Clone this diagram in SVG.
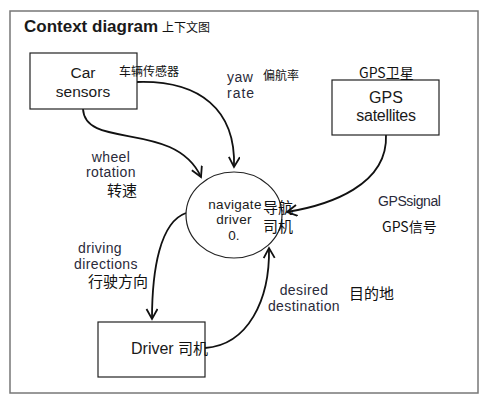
<svg xmlns="http://www.w3.org/2000/svg" width="494" height="412" viewBox="0 0 494 412">
<style>
.box{fill:#fff;stroke:#222;stroke-width:1.2}
.en{font-family:"Liberation Sans",Arial,sans-serif;fill:#1a1a1a}
.cn{font-family:"Noto Sans CJK SC","Noto Sans",sans-serif;fill:#111}
.lbl{font-family:"Liberation Sans",Arial,sans-serif;fill:#2a2a3a;font-size:14px}
.conn{fill:none;stroke:#111;stroke-width:1.8;marker-end:url(#arr)}
</style>
<defs>
<marker id="arr" markerUnits="userSpaceOnUse" markerWidth="16" markerHeight="16" refX="11" refY="6" orient="auto">
<path d="M1,0.5 L11,6 L1,11.5" fill="none" stroke="#111" stroke-width="1.8"/>
</marker>
</defs>
<rect width="494" height="412" fill="#fff"/>
<rect x="10" y="11" width="468" height="382" fill="none" stroke="#777" stroke-width="1.5"/>
<g id="title">
<text x="24" y="32" class="en" font-size="17" font-weight="bold">Context diagram</text>
<text x="162" y="32" class="cn" font-size="12">上下文图</text>
</g>
<g id="connectors">
<path class="conn" d="M83,109 C85,150 175,120 201,177"/>
<path class="conn" d="M137,82 C200,80 236,110 234,167"/>
<path class="conn" d="M386,135 C388,185 330,205 287,212"/>
<path class="conn" d="M186,213 C160,222 152,270 152,319"/>
<path class="conn" d="M205,348 C248,345 270,300 269,248"/>
</g>
<g id="car-sensors">
<rect class="box" x="30" y="53" width="107" height="56"/>
<text x="83" y="78" class="en" font-size="15.5" text-anchor="middle">Car</text>
<text x="83" y="97" class="en" font-size="15.5" text-anchor="middle">sensors</text>
<text x="119" y="76" class="cn" font-size="12">车辆传感器</text>
</g>
<g id="gps-satellites">
<rect class="box" x="332" y="80" width="107" height="55"/>
<text x="386" y="103" class="en" font-size="16" text-anchor="middle">GPS</text>
<text x="386" y="121" class="en" font-size="16" text-anchor="middle" letter-spacing="-0.3">satellites</text>
<text x="359" y="78" class="cn" font-size="14">GPS卫星</text>
</g>
<g id="navigate-driver">
<ellipse cx="234" cy="215" rx="48" ry="43" fill="#fff" stroke="#222" stroke-width="1.2"/>
<text x="235" y="209" class="en" font-size="13.5" text-anchor="middle" letter-spacing="0.3">navigate</text>
<text x="234" y="224" class="en" font-size="13.5" text-anchor="middle" letter-spacing="0.3">driver</text>
<text x="234" y="240" class="en" font-size="13.5" text-anchor="middle">0.</text>
<text x="263" y="213" class="cn" font-size="15">导航</text>
<text x="263" y="232" class="cn" font-size="15">司机</text>
</g>
<g id="driver">
<rect class="box" x="98" y="322" width="107" height="55"/>
<text x="131" y="354" class="en" font-size="16">Driver</text>
<text x="178" y="354" class="cn" font-size="15">司机</text>
</g>
<g id="labels">
<text x="111" y="162" class="lbl" text-anchor="middle" letter-spacing="0.4">wheel</text>
<text x="111" y="177" class="lbl" text-anchor="middle" letter-spacing="0.4">rotation</text>
<text x="107" y="196" class="cn" font-size="15">转速</text>
<text x="227" y="82" class="lbl" letter-spacing="0.5">yaw</text>
<text x="227" y="98" class="lbl" letter-spacing="1">rate</text>
<text x="263" y="80" class="cn" font-size="12">偏航率</text>
<text x="378" y="206" class="lbl" letter-spacing="-0.4">GPSsignal</text>
<text x="382" y="232" class="cn" font-size="14">GPS信号</text>
<text x="100" y="253" class="lbl" text-anchor="middle" letter-spacing="0.4">driving</text>
<text x="106" y="269" class="lbl" text-anchor="middle" letter-spacing="0.4">directions</text>
<text x="88" y="287" class="cn" font-size="15">行驶方向</text>
<text x="304" y="295" class="lbl" text-anchor="middle" letter-spacing="0.4">desired</text>
<text x="304" y="311" class="lbl" text-anchor="middle" letter-spacing="0.4">destination</text>
<text x="349" y="299" class="cn" font-size="15">目的地</text>
</g>
</svg>
